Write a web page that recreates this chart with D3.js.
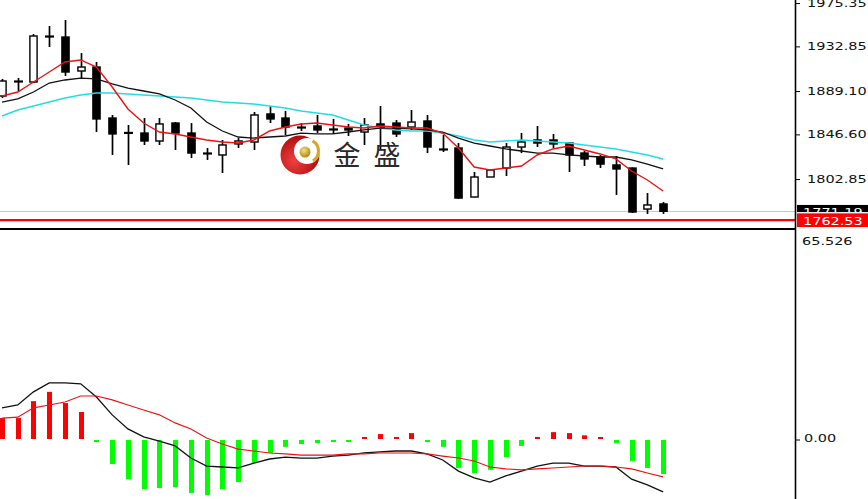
<!DOCTYPE html>
<html><head><meta charset="utf-8">
<script src="https://cdn.jsdelivr.net/npm/d3@7"></script>
<style>body{margin:0;background:#fff;overflow:hidden}svg{display:block}</style>
</head><body><svg id="c" width="868" height="499"></svg>
<script>
// ---- data ----
const openP  = [1884.2,1898.9,1897.9,1943.0,1942.0,1908.7,1912.6,1862.6,1848.4,1847.9,1840.1,1857.7,1847.9,1828.3,1826.4,1837.2,1839.1,1866.6,1862.6,1853.8,1854.8,1851.9,1852.8,1848.9,1856.8,1857.7,1853.8,1859.7,1832.3,1833.2,1785.2,1804.8,1813.6,1834.2,1841.1,1841.1,1838.1,1828.3,1824.4,1816.6,1813.6,1773.4,1778.4];
const highP  = [1900.9,1901.8,1945.0,1952.8,1958.7,1926.3,1917.5,1865.6,1855.8,1862.6,1862.6,1858.7,1857.7,1833.2,1841.1,1843.0,1868.5,1874.4,1869.5,1857.7,1865.6,1861.7,1856.8,1862.6,1874.4,1860.7,1870.5,1865.6,1846.0,1838.1,1809.7,1811.7,1838.1,1848.0,1854.8,1847.0,1838.6,1830.3,1826.4,1825.4,1814.1,1789.1,1780.3];
const lowP   = [1882.2,1889.1,1896.9,1932.2,1903.8,1900.9,1848.9,1826.4,1816.6,1836.2,1836.2,1831.3,1823.4,1821.5,1808.7,1833.2,1831.3,1857.7,1846.0,1849.9,1847.9,1847.0,1845.0,1836.2,1831.3,1844.0,1850.9,1828.3,1829.3,1783.3,1784.9,1804.8,1805.8,1828.3,1834.2,1833.2,1809.7,1815.6,1813.6,1787.2,1769.5,1768.6,1768.6];
const closeP = [1898.9,1897.9,1943.0,1942.0,1907.7,1912.6,1861.7,1847.0,1847.6,1840.1,1856.8,1847.9,1828.3,1827.4,1836.2,1840.1,1865.6,1861.7,1853.8,1852.8,1850.9,1850.9,1850.9,1855.8,1852.8,1847.0,1858.7,1834.2,1831.3,1784.2,1804.8,1811.7,1834.2,1839.1,1838.1,1837.2,1826.4,1822.5,1817.5,1812.7,1770.5,1777.4,1771.19];
const maFast = [1884.2,1888.1,1897.9,1907.7,1917.5,1919.5,1912.6,1893.0,1871.5,1857.7,1848.9,1847.0,1844.0,1841.1,1839.1,1838.1,1841.1,1849.9,1853.8,1856.8,1857.7,1855.8,1853.8,1852.8,1854.8,1853.8,1852.8,1852.8,1847.9,1833.2,1814.6,1811.7,1813.6,1815.6,1826.4,1832.3,1835.2,1831.3,1827.4,1822.5,1810.7,1801.9,1791.1];
const maMid  = [1878.3,1881.3,1888.1,1896.9,1899.9,1901.8,1900.9,1896.0,1892.0,1889.1,1886.2,1880.3,1872.4,1858.7,1849.9,1844.0,1843.0,1844.0,1845.0,1847.9,1847.0,1847.0,1848.9,1850.9,1852.8,1852.8,1851.9,1850.9,1848.9,1843.0,1838.1,1835.2,1832.3,1830.3,1828.3,1828.3,1826.4,1825.4,1824.4,1824.4,1821.5,1817.5,1812.7];
const maSlow = [1864.6,1870.5,1874.4,1878.3,1882.2,1885.2,1887.1,1887.1,1886.2,1885.2,1884.2,1883.2,1882.2,1880.3,1878.3,1877.3,1876.3,1874.4,1872.4,1869.5,1867.5,1865.6,1860.7,1855.8,1852.8,1850.9,1849.9,1849.9,1847.9,1845.0,1841.1,1839.1,1840.1,1841.1,1840.1,1839.1,1838.1,1836.2,1834.2,1832.3,1829.3,1826.4,1822.5];
const macdHist   = [6.7,6.7,12.0,14.9,11.4,8.6,-0.3,-7.7,-12.4,-15.5,-15.2,-14.9,-16.7,-17.4,-15.5,-13.3,-7.4,-4.2,-2.3,-1.4,-1.1,-0.3,-0.3,0.8,1.7,0.8,2.0,-0.8,-2.3,-8.9,-10.5,-9.5,-5.5,-2.0,0.8,2.3,2.0,1.3,0.2,-1.1,-6.7,-8.9,-10.8];
const macdMain   = [9.9,10.8,14.9,17.7,17.7,17.4,13.3,7.7,3.3,0.8,-0.5,-2.0,-5.8,-8.3,-8.6,-8.9,-7.4,-6.1,-5.5,-5.8,-5.8,-5.2,-4.9,-4.2,-3.9,-3.6,-3.6,-4.5,-6.4,-9.9,-12.0,-13.3,-11.4,-9.9,-8.3,-7.4,-7.4,-8.3,-8.3,-8.6,-12.4,-14.2,-16.4];
const macdSignal = [6.7,7.0,9.9,10.8,11.7,13.6,13.6,12.4,10.8,9.2,7.7,5.2,3.3,0.5,-1.4,-3.0,-3.6,-4.2,-4.5,-4.9,-4.9,-4.9,-4.5,-4.5,-4.2,-4.2,-4.2,-4.5,-5.2,-5.8,-6.7,-8.6,-9.2,-9.5,-9.2,-8.9,-8.6,-8.3,-8.3,-8.6,-9.2,-10.5,-11.7];
const priceTicks = [1975.35,1932.85,1889.10,1846.60,1802.85];
const bidPrice = 1771.19;
const linePrice = 1762.53;
const macdTop = 65.526;
const macdTicks = [0];
const logoChars = ["金","盛"];

// ---- layout ----
const svg = d3.select("#c");
const W = 868, H = 499, plotR = 795;
const topBottom = 228, lowTop = 230;
const n = openP.length;
const x = d3.scaleLinear().domain([0, n-1]).range([2, 663.1]);
const y = d3.scaleLinear().domain([1802.85, 1975.35]).range([179, 3]);
const ym = d3.scaleLinear().domain([0, macdTop]).range([439.5, 230]);

svg.append("rect").attr("width",W).attr("height",H).attr("fill","#fff");
const defs = svg.append("defs");
defs.append("clipPath").attr("id","cpTop").append("rect").attr("x",0).attr("y",0).attr("width",plotR).attr("height",topBottom);
defs.append("clipPath").attr("id","cpLow").append("rect").attr("x",0).attr("y",lowTop).attr("width",plotR).attr("height",H-lowTop);

// ---- top pane ----
const topG = svg.append("g").attr("clip-path","url(#cpTop)");
topG.append("line").attr("x1",0).attr("x2",plotR).attr("y1",Math.round(y(bidPrice))+0.5).attr("y2",Math.round(y(bidPrice))+0.5).attr("stroke","#c8c8c8").attr("stroke-width",1);
topG.append("line").attr("x1",0).attr("x2",plotR).attr("y1",y(linePrice)).attr("y2",y(linePrice)).attr("stroke","#ff0000").attr("stroke-width",2.4);

// candles
const cg = topG.append("g");
d3.range(n).forEach(i => {
  const cx = Math.round(x(i)) + 0.5;
  cg.append("line").attr("x1",cx).attr("x2",cx).attr("y1",y(highP[i])).attr("y2",y(lowP[i])).attr("stroke","#000").attr("stroke-width",1.7);
  const yo = y(openP[i]), yc = y(closeP[i]);
  if (Math.abs(yo-yc) < 1.6) {
    cg.append("line").attr("x1",cx-4.5).attr("x2",cx+4.5).attr("y1",(yo+yc)/2).attr("y2",(yo+yc)/2).attr("stroke","#000").attr("stroke-width",2.2);
  } else {
    cg.append("rect").attr("x",cx-3.6).attr("width",7.2).attr("y",Math.min(yo,yc)).attr("height",Math.abs(yo-yc))
      .attr("fill", closeP[i] < openP[i] ? "#000" : "#fff").attr("stroke","#000").attr("stroke-width",1.4);
  }
});

// moving averages
const mk = arr => d3.line().x((d,i)=>x(i)).y(d=>y(d))(arr);
topG.append("path").attr("d",mk(maSlow)).attr("fill","none").attr("stroke","#22dde6").attr("stroke-width",1.4);
topG.append("path").attr("d",mk(maMid)).attr("fill","none").attr("stroke","#111").attr("stroke-width",1.3);
topG.append("path").attr("d",mk(maFast)).attr("fill","none").attr("stroke","#ee1111").attr("stroke-width",1.4);

// logo watermark
const lg = svg.append("g");
const rg = defs.append("radialGradient").attr("id","rg").attr("cx","35%").attr("cy","65%").attr("r","70%");
rg.append("stop").attr("offset","0%").attr("stop-color","#f04040");
rg.append("stop").attr("offset","100%").attr("stop-color","#a80808");
const gg = defs.append("radialGradient").attr("id","gg").attr("cx","40%").attr("cy","35%").attr("r","65%");
gg.append("stop").attr("offset","0%").attr("stop-color","#f6e080");
gg.append("stop").attr("offset","100%").attr("stop-color","#b08a10");
lg.append("circle").attr("cx",300).attr("cy",155).attr("r",19.5).attr("fill","url(#rg)");
lg.append("circle").attr("cx",307).attr("cy",151).attr("r",13).attr("fill","#fff");
lg.append("path").attr("d",d3.arc()({innerRadius:10,outerRadius:13,startAngle:0.5,endAngle:2.6})).attr("transform","translate(307,151)").attr("fill","#d4a820");
lg.append("circle").attr("cx",305).attr("cy",152).attr("r",5.5).attr("fill","url(#gg)");
lg.selectAll("text.logo").data(logoChars).enter().append("text").attr("class","logo")
  .attr("x",(d,i)=>347 + i*40).attr("y",165).attr("text-anchor","middle")
  .attr("font-family","Noto Sans CJK SC").attr("font-size",27).attr("fill","#2a2a2a").text(d=>d);

// pane separator
svg.append("line").attr("x1",0).attr("x2",plotR).attr("y1",229).attr("y2",229).attr("stroke","#000").attr("stroke-width",1.8);

// ---- MACD pane ----
const lowG = svg.append("g").attr("clip-path","url(#cpLow)");
lowG.selectAll("rect.h").data(macdHist).enter().append("rect").attr("class","h")
  .attr("x",(d,i)=>Math.round(x(i))-2).attr("width",5)
  .attr("y",d => d >= 0 ? Math.min(ym(d), 437) : 440)
  .attr("height",d => d >= 0 ? Math.max(439 - ym(d), 2) : Math.max(ym(d) - 440, 2))
  .attr("fill",d => d >= 0 ? "#ff0000" : "#00ff00");
const mkm = arr => d3.line().x((d,i)=>x(i)).y(d=>ym(d))(arr);
lowG.append("path").attr("d",mkm(macdMain)).attr("fill","none").attr("stroke","#111").attr("stroke-width",1.3);
lowG.append("path").attr("d",mkm(macdSignal)).attr("fill","none").attr("stroke","#ee1111").attr("stroke-width",1.1);

// ---- right axes ----
const sx = 1.28;
function styleAxis(g){
  g.select(".domain").remove();
  g.selectAll(".tick line").attr("stroke","#000").attr("stroke-width",1);
  g.selectAll(".tick text").attr("fill","#111").attr("font-family","DejaVu Sans").attr("font-size",11.3)
    .attr("x",12/sx).attr("transform",`scale(${sx},1)`);
}
const ax = svg.append("g").attr("transform",`translate(${plotR},0)`)
  .call(d3.axisRight(y).tickValues(priceTicks).tickSize(5).tickFormat(d3.format(".2f")));
styleAxis(ax);
const axm = svg.append("g").attr("transform",`translate(${plotR},0)`)
  .call(d3.axisRight(ym).tickValues(macdTicks).tickSize(5).tickFormat(d3.format(".2f")));
styleAxis(axm);
axm.selectAll(".tick text").attr("x",9/sx).attr("dy","0.2em");
svg.append("text").attr("x",(plotR+7)/sx).attr("y",245).attr("transform",`scale(${sx},1)`)
  .attr("font-family","DejaVu Sans").attr("font-size",11.3).attr("fill","#111").text(d3.format(".3f")(macdTop));
svg.append("line").attr("x1",plotR+0.5).attr("x2",plotR+0.5).attr("y1",0).attr("y2",H).attr("stroke","#000").attr("stroke-width",1.6);

// price boxes (the bid label is partly hidden under the line label, as in the reference)
function priceBox(p, fill, y0, h, id){
  defs.append("clipPath").attr("id",id).append("rect").attr("x",plotR+2).attr("y",y0).attr("width",W-plotR-2).attr("height",h);
  const g = svg.append("g").attr("clip-path",`url(#${id})`);
  g.append("rect").attr("x",plotR+2).attr("y",y0).attr("width",W-plotR-2).attr("height",h).attr("fill",fill);
  g.append("text").attr("x",(plotR+8)/sx).attr("y",y(p)+4.5).attr("transform",`scale(${sx},1)`)
    .attr("font-family","DejaVu Sans").attr("font-size",11.3).attr("fill","#fff").text(d3.format(".2f")(p));
}
priceBox(bidPrice, "#000", y(bidPrice)-6.5, 7.5, "cpBid");
priceBox(linePrice, "#ff0000", y(linePrice)-7, 14, "cpLine");
</script></body></html>
